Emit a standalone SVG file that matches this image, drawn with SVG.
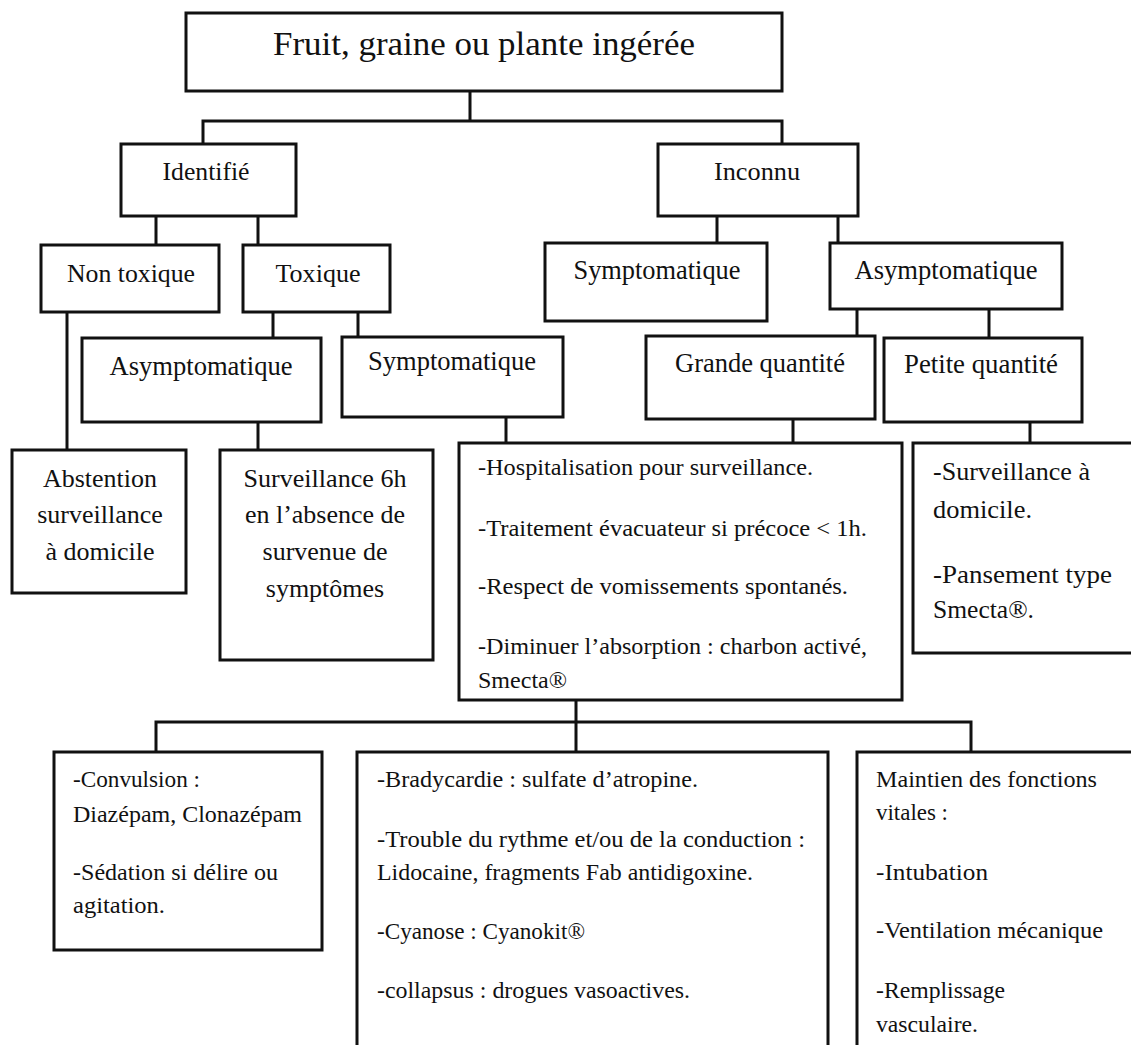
<svg xmlns="http://www.w3.org/2000/svg" width="1131" height="1045" viewBox="0 0 1131 1045">
<style>
.box{fill:#fff;stroke:#111;stroke-width:3}
.conn{stroke:#111;stroke-width:3;fill:none}
text{font-family:"Liberation Serif","Times New Roman",serif;fill:#111}
.lbl{font-size:25px;text-anchor:middle}
.lbl2{font-size:26.5px;text-anchor:middle}
.c26{font-size:26px;text-anchor:middle}
.body{font-size:24px}
.body26{font-size:26px}
</style>
<rect width="1131" height="1045" fill="#fff"/>
<g id="connectors">
<path class="conn" d="M470,91 V121 M203,144 V121 H782 V144"/>
<path class="conn" d="M156,216 V245 M258,216 V245"/>
<path class="conn" d="M717,216 V243 M838,216 V243"/>
<path class="conn" d="M67,312 V450"/>
<path class="conn" d="M273,312 V338 M358,312 V337"/>
<path class="conn" d="M857,309 V336 M989,309 V338"/>
<path class="conn" d="M258,422 V450"/>
<path class="conn" d="M506,417 V443"/>
<path class="conn" d="M793,419 V443"/>
<path class="conn" d="M1030,422 V443"/>
<path class="conn" d="M576,700 V752 M156,752 V722 H971 V752"/>
</g>
<g id="root">
<rect class="box" x="186" y="13" width="596" height="78"/>
<text x="484" y="55" font-size="34" text-anchor="middle" textLength="422" lengthAdjust="spacingAndGlyphs">Fruit, graine ou plante ingérée</text>
</g>
<g id="identifie">
<rect class="box" x="121" y="144" width="175" height="72"/>
<text class="lbl" x="206" y="180" textLength="87" lengthAdjust="spacingAndGlyphs">Identifié</text>
</g>
<g id="inconnu">
<rect class="box" x="658" y="144" width="200" height="72"/>
<text class="lbl" x="757" y="180" textLength="86" lengthAdjust="spacingAndGlyphs">Inconnu</text>
</g>
<g id="non-toxique">
<rect class="box" x="41" y="245" width="178" height="67"/>
<text class="lbl" x="131" y="282" textLength="128" lengthAdjust="spacingAndGlyphs">Non toxique</text>
</g>
<g id="toxique">
<rect class="box" x="243" y="245" width="147" height="67"/>
<text class="lbl" x="318" y="282" textLength="85" lengthAdjust="spacingAndGlyphs">Toxique</text>
</g>
<g id="symptomatique-inconnu">
<rect class="box" x="545" y="243" width="222" height="78"/>
<text class="lbl2" x="657" y="279" textLength="167" lengthAdjust="spacingAndGlyphs">Symptomatique</text>
</g>
<g id="asymptomatique-inconnu">
<rect class="box" x="830" y="243" width="232" height="66"/>
<text class="lbl2" x="946" y="279" textLength="183" lengthAdjust="spacingAndGlyphs">Asymptomatique</text>
</g>
<g id="asymptomatique-toxique">
<rect class="box" x="82" y="338" width="239" height="84"/>
<text class="lbl2" x="201" y="375" textLength="183" lengthAdjust="spacingAndGlyphs">Asymptomatique</text>
</g>
<g id="symptomatique-toxique">
<rect class="box" x="342" y="337" width="221" height="80"/>
<text class="lbl2" x="452" y="370" textLength="168" lengthAdjust="spacingAndGlyphs">Symptomatique</text>
</g>
<g id="grande-quantite">
<rect class="box" x="646" y="336" width="229" height="83"/>
<text class="lbl2" x="760" y="372" textLength="170" lengthAdjust="spacingAndGlyphs">Grande quantité</text>
</g>
<g id="petite-quantite">
<rect class="box" x="884" y="338" width="198" height="84"/>
<text class="lbl2" x="981" y="373" textLength="154" lengthAdjust="spacingAndGlyphs">Petite quantité</text>
</g>
<g id="abstention">
<rect class="box" x="12" y="450" width="174" height="143"/>
<text class="c26" x="100" y="487" textLength="114" lengthAdjust="spacingAndGlyphs">Abstention</text>
<text class="c26" x="100" y="523">surveillance</text>
<text class="c26" x="100" y="560">à domicile</text>
</g>
<g id="surveillance-6h">
<rect class="box" x="220" y="450" width="213" height="210"/>
<text class="c26" x="325" y="487" textLength="163" lengthAdjust="spacingAndGlyphs">Surveillance 6h</text>
<text class="c26" x="325" y="523">en l’absence de</text>
<text class="c26" x="325" y="560">survenue de</text>
<text class="c26" x="325" y="597">symptômes</text>
</g>
<g id="prise-en-charge">
<rect class="box" x="459" y="443" width="443" height="257"/>
<text class="body" x="478" y="475" textLength="335" lengthAdjust="spacingAndGlyphs">-Hospitalisation pour surveillance.</text>
<text class="body" x="478" y="536" textLength="389" lengthAdjust="spacingAndGlyphs">-Traitement évacuateur si précoce &lt; 1h.</text>
<text class="body" x="478" y="594" textLength="370" lengthAdjust="spacingAndGlyphs">-Respect de vomissements spontanés.</text>
<text class="body" x="478" y="654" textLength="389" lengthAdjust="spacingAndGlyphs">-Diminuer l’absorption : charbon activé,</text>
<text class="body" x="478" y="688" textLength="89" lengthAdjust="spacingAndGlyphs">Smecta®</text>
</g>
<g id="surveillance-domicile">
<rect class="box" x="913" y="443" width="222" height="210"/>
<text class="body26" x="933" y="480" textLength="157" lengthAdjust="spacingAndGlyphs">-Surveillance à</text>
<text class="body26" x="933" y="518" textLength="99" lengthAdjust="spacingAndGlyphs">domicile.</text>
<text class="body26" x="933" y="583" textLength="179" lengthAdjust="spacingAndGlyphs">-Pansement type</text>
<text class="body26" x="933" y="618" textLength="101" lengthAdjust="spacingAndGlyphs">Smecta®.</text>
</g>
<g id="convulsion">
<rect class="box" x="54" y="752" width="268" height="198"/>
<text class="body" x="73" y="787" textLength="127" lengthAdjust="spacingAndGlyphs">-Convulsion :</text>
<text class="body" x="73" y="822" textLength="229" lengthAdjust="spacingAndGlyphs">Diazépam, Clonazépam</text>
<text class="body" x="73" y="880" textLength="205" lengthAdjust="spacingAndGlyphs">-Sédation si délire ou</text>
<text class="body" x="73" y="913" textLength="92" lengthAdjust="spacingAndGlyphs">agitation.</text>
</g>
<g id="cardio">
<rect class="box" x="357" y="752" width="471" height="310"/>
<text class="body" x="377" y="787" textLength="321" lengthAdjust="spacingAndGlyphs">-Bradycardie : sulfate d’atropine.</text>
<text class="body" x="377" y="847" textLength="428" lengthAdjust="spacingAndGlyphs">-Trouble du rythme et/ou de la conduction :</text>
<text class="body" x="377" y="880" textLength="376" lengthAdjust="spacingAndGlyphs">Lidocaine, fragments Fab antidigoxine.</text>
<text class="body" x="377" y="939" textLength="208" lengthAdjust="spacingAndGlyphs">-Cyanose : Cyanokit®</text>
<text class="body" x="377" y="998" textLength="313" lengthAdjust="spacingAndGlyphs">-collapsus : drogues vasoactives.</text>
</g>
<g id="fonctions-vitales">
<rect class="box" x="857" y="752" width="290" height="310"/>
<text class="body" x="876" y="787" textLength="221" lengthAdjust="spacingAndGlyphs">Maintien des fonctions</text>
<text class="body" x="876" y="820" textLength="72" lengthAdjust="spacingAndGlyphs">vitales :</text>
<text class="body" x="876" y="880" textLength="112" lengthAdjust="spacingAndGlyphs">-Intubation</text>
<text class="body" x="876" y="938" textLength="227" lengthAdjust="spacingAndGlyphs">-Ventilation mécanique</text>
<text class="body" x="876" y="998" textLength="129" lengthAdjust="spacingAndGlyphs">-Remplissage</text>
<text class="body" x="876" y="1032" textLength="102" lengthAdjust="spacingAndGlyphs">vasculaire.</text>
</g>
</svg>
